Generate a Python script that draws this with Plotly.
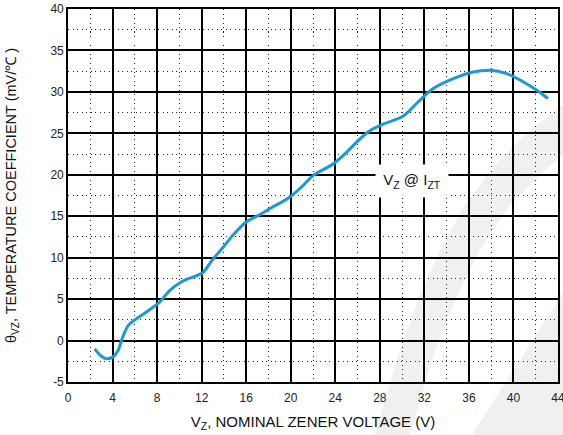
import plotly.graph_objects as go

# Data
vz = [2.4, 3.0, 3.45, 4.0, 4.5, 4.8, 5.4, 6.0, 7.2, 8.2, 9.1, 10.2, 11.5, 12.1, 13.0, 13.9, 14.8, 16.0,
      17.1, 18.1, 19.9, 21.1, 22.0, 23.8, 25.0, 26.2, 27.1, 28.3, 30.1, 31.3, 32.8, 34.6, 36.4, 37.9,
      39.4, 40.9, 42.1, 43.1]
theta = [-1.0, -1.9, -2.2, -2.0, -1.2, 0.0, 1.8, 2.5, 3.6, 4.6, 6.0, 7.1, 7.8, 8.2, 9.8, 11.2, 12.7, 14.3,
         15.1, 15.9, 17.3, 18.7, 19.9, 21.3, 22.7, 24.3, 25.3, 26.1, 27.1, 28.6, 30.4, 31.6, 32.4, 32.6,
         32.2, 31.2, 30.2, 29.2]

x_ticks = [0, 4, 8, 12, 16, 20, 24, 28, 32, 36, 40, 44]
y_ticks = [-5, 0, 5, 10, 15, 20, 25, 30, 35, 40]

W, H = 563, 435
L, R, T, B = 68, 5, 9, 53
pw, ph = W - L - R, H - T - B


def px_to_paper(pts):
    out = []
    for (px, py) in pts:
        out.append(((px - L) / pw, (H - B - py) / ph))
    return out


def path_of(pts):
    p = px_to_paper(pts)
    s = "M %.4f %.4f " % p[0]
    for (a, b) in p[1:]:
        s += "L %.4f %.4f " % (a, b)
    return s + "Z"


band = [(563, 105), (530, 130), (495, 165), (465, 205), (440, 250), (418, 300), (400, 350), (385, 400),
        (375, 435), (410, 435), (420, 400), (435, 350), (455, 300), (480, 250), (510, 205), (545, 170),
        (563, 155)]
wedge = [(563, 293), (563, 435), (472, 435)]

fig = go.Figure()
fig.add_trace(go.Scatter(x=vz, y=theta, mode="lines",
                         line=dict(color="#1b98d9", width=3, shape="spline", smoothing=1.0),
                         showlegend=False, hoverinfo="skip"))

for shp in (band, wedge):
    fig.add_shape(type="path", path=path_of(shp), xref="paper", yref="paper",
                  fillcolor="#f0f0f0", line=dict(width=0), layer="below")

fig.add_annotation(x=30.9, y=19.3, xref="x", yref="y",
                   text="V<sub>Z</sub> @ I<sub>ZT</sub>", showarrow=False,
                   font=dict(family="Liberation Sans, Arial, sans-serif", size=15, color="#111"),
                   bgcolor="white", width=70, height=30)

axis_font = dict(family="Liberation Sans, Arial, sans-serif", size=12, color="#222")
title_font = dict(family="Liberation Sans, Arial, sans-serif", size=15, color="#111")
dots = "1px,3.5px"

fig.update_xaxes(range=[0, 44], tickvals=x_ticks, ticktext=[str(v) for v in x_ticks],
                 showgrid=True, gridcolor="#000", gridwidth=1.6,
                 minor=dict(dtick=2, tick0=0, showgrid=True, gridcolor="#222", gridwidth=1.3, griddash=dots),
                 showline=True, linecolor="#000", linewidth=1.6, mirror=True,
                 zeroline=False, ticks="", tickfont=axis_font, ticklabeloverflow="allow",
                 ticklabelstandoff=4,
                 title=dict(text="V<sub>Z</sub>, NOMINAL ZENER VOLTAGE (V)", font=title_font, standoff=12))
fig.update_yaxes(range=[-5, 40], tickvals=y_ticks, ticktext=[str(v) for v in y_ticks],
                 showgrid=True, gridcolor="#000", gridwidth=1.6,
                 minor=dict(dtick=2.5, tick0=0, showgrid=True, gridcolor="#222", gridwidth=1.3, griddash=dots),
                 showline=True, linecolor="#000", linewidth=1.6, mirror=True,
                 zeroline=False, ticks="", tickfont=axis_font, ticklabeloverflow="allow",
                 title=dict(text="θ<sub>VZ</sub>, TEMPERATURE COEFFICIENT (mV/℃ )",
                            font=dict(family="Liberation Sans, Arial, sans-serif", size=14.5, color="#111"),
                            standoff=30))

fig.update_layout(width=W, height=H, margin=dict(l=L, r=R, t=T, b=B, autoexpand=False),
                  paper_bgcolor="white", plot_bgcolor="rgba(0,0,0,0)")

fig.write_html("out.html", config={"displayModeBar": False},
               post_script="document.body.style.margin='0';document.body.style.padding='0';")
